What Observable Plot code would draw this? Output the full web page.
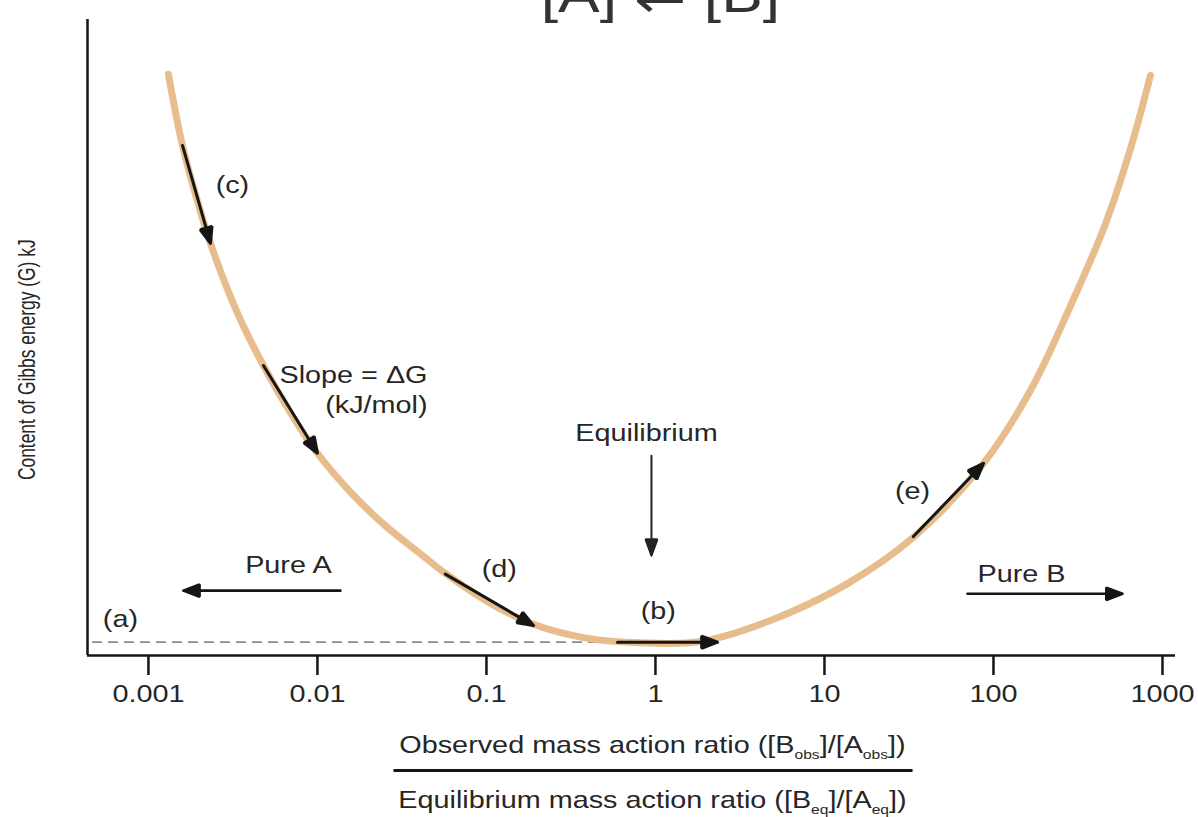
<!DOCTYPE html>
<html>
<head>
<meta charset="utf-8">
<script src="https://cdn.jsdelivr.net/npm/d3@7"></script>
<script src="https://cdn.jsdelivr.net/npm/@observablehq/plot@0.6"></script>
<style>
  html, body { margin: 0; padding: 0; background: #fff; }
  #chart { width: 1198px; height: 817px; overflow: hidden; }
</style>
</head>
<body>
<div id="chart"></div>
<script>
// ---- Data ----
// Gibbs energy curve: mass action ratio (Q/K) vs G (arbitrary units, 0..100)
const curveRatio = [0.001312, 0.001589, 0.001923, 0.002328, 0.003319, 0.004786, 0.006918, 0.01, 0.01633, 0.02523, 0.04064, 0.05715, 0.1057, 0.1897, 0.3963, 0.8147, 1.845, 4.786, 13.68, 33.65, 87.3, 165.6, 285.8, 460.3, 647.1, 849.2];
const curveG     = [91.4, 80.2, 72.0, 64.8, 54.2, 45.6, 38.2, 31.8, 25.2, 20.4, 16.0, 12.9, 8.2, 4.9, 2.7, 2.0, 2.2, 5.5, 11.3, 18.6, 30.2, 41.7, 55.0, 67.9, 79.7, 91.2];

// Arrows drawn along the curve: (c), slope, (d), (b), (e)
const curveArrowNames = ["c", "slope", "d", "b", "e"];
const curveArrowX1 = [0.00159, 0.00479, 0.0571, 0.596, 33.6];
const curveArrowY1 = [80.2, 45.6, 12.8, 2.1, 18.7];
const curveArrowX2 = [0.00233, 0.0100, 0.190, 2.33, 87.3];
const curveArrowY2 = [64.8, 31.8, 4.7, 2.1, 30.2];

// "Pure A" / "Pure B" direction arrows
const pureArrowX1 = [0.01368, 70.2];
const pureArrowX2 = [0.00161, 580];
const pureArrowY  = [10.2, 9.7];

// Equilibrium pointer
const eqArrowX = [0.947];
const eqArrowY1 = [31.4];
const eqArrowY2 = [15.7];

// Minimum (equilibrium) energy level, dashed reference (a)
const minG = 2.1;
const dashRatio = [0.000467, 0.596];

// Axis ticks
const tickValues = [0.001, 0.01, 0.1, 1, 10, 100, 1000];
const tickLabels = ["0.001", "0.01", "0.1", "1", "10", "100", "1000"];

// Texts
const titleText = "[A] \u21CC [B]";
const yLabel = "Content of Gibbs energy (G) kJ";
const xLabelTop = "Observed mass action ratio ([B_obs]/[A_obs])";
const xLabelBottom = "Equilibrium mass action ratio ([B_eq]/[A_eq])";

// ---- Build tables ----
const curve = curveRatio.map((r, i) => ({r, g: curveG[i]}));
const curveArrows = curveArrowNames.map((n, i) => ({n, x1: curveArrowX1[i], y1: curveArrowY1[i], x2: curveArrowX2[i], y2: curveArrowY2[i]}));
const pureArrows = pureArrowX1.map((x1, i) => ({x1, x2: pureArrowX2[i], y: pureArrowY[i]}));
const eqArrows = eqArrowX.map((x, i) => ({x, y1: eqArrowY1[i], y2: eqArrowY2[i]}));

const labels = [
  {text: "(c)", x: 0.00314, y: 73.9},
  {text: "Equilibrium", x: 0.885, y: 34.9},
  {text: "Pure A", x: 0.00673, y: 14.2},
  {text: "(d)", x: 0.119, y: 13.5},
  {text: "(b)", x: 1.04, y: 6.9},
  {text: "(a)", x: 0.000683, y: 5.7},
  {text: "(e)", x: 33.2, y: 25.8},
  {text: "Pure B", x: 146.5, y: 12.7}
];
const slopeLabels = [
  {text: "Slope = \u0394G", x: 0.0448, y: 44.0},
  {text: "(kJ/mol)", x: 0.0448, y: 39.3}
];

const xDomain = [0.000436, 1194];
const ink = "#151515";
const textInk = "#262626";

const chart = Plot.plot({
  width: 1198,
  height: 817,
  marginLeft: 87,
  marginRight: 23,
  marginTop: 19,
  marginBottom: 162,
  x: {type: "log", domain: xDomain},
  y: {domain: [0, 100], axis: null},
  style: {fontFamily: "'Liberation Sans', Arial, Helvetica, sans-serif", fontSize: "24px", background: "#fff", color: textInk},
  marks: [
    Plot.ruleY([minG], {x1: dashRatio[0], x2: dashRatio[1], stroke: "#8c8c8c", strokeWidth: 1.6, strokeDasharray: "10,6"}),
    Plot.line(curve, {x: "r", y: "g", stroke: "#e7bd8d", strokeWidth: 7, curve: "catmull-rom"}),
    Plot.arrow(curveArrows, {x1: "x1", y1: "y1", x2: "x2", y2: "y2", stroke: ink, strokeWidth: 3, headLength: 8.5, headAngle: 42}),
    Plot.arrow(pureArrows, {x1: "x1", y1: "y", x2: "x2", y2: "y", stroke: ink, strokeWidth: 2.6, headLength: 10, headAngle: 42}),
    Plot.arrow(eqArrows, {x1: "x", y1: "y1", x2: "x", y2: "y2", stroke: "#222", strokeWidth: 2, headLength: 13, headAngle: 40}),
    Plot.ruleX([xDomain[0]], {stroke: ink, strokeWidth: 2.5}),
    Plot.ruleY([0], {stroke: ink, strokeWidth: 2.5}),
    Plot.axisX({
      ticks: tickValues,
      tickFormat: d => tickLabels[tickValues.indexOf(d)],
      tickSize: 20,
      tickPadding: 9,
      fontSize: 24,
      stroke: ink,
      strokeWidth: 2.5,
      fill: textInk,
      label: null
    }),
    Plot.text(labels, {x: "x", y: "y", text: "text", fontSize: 24, fill: textInk}),
    Plot.text(slopeLabels, {x: "x", y: "y", text: "text", fontSize: 24, fill: textInk, textAnchor: "end"}),
    Plot.text([yLabel], {x: xDomain[0], y: 46.5, dx: -60, text: d => d, rotate: -90, fontSize: 17.4, fill: textInk}),
    Plot.text([xLabelTop], {x: 0.96, y: 0, dy: 90, text: d => d, fontSize: 24, fill: textInk}),
    Plot.link([0], {x1: () => 0.02818, x2: () => 33.2, y1: () => 0, y2: () => 0, dy: 115, stroke: ink, strokeWidth: 2.8}),
    Plot.text([xLabelBottom], {x: 0.96, y: 0, dy: 145, text: d => d, fontSize: 24, fill: textInk}),
    Plot.text([titleText], {x: 1.07, y: 100, dy: -8, text: d => d, lineAnchor: "bottom", fontSize: 52, fill: "#333"})
  ]
});

document.getElementById("chart").appendChild(chart);
const svg = chart.tagName.toLowerCase() === "svg" ? chart : chart.querySelector("svg");
const NS = "http://www.w3.org/2000/svg";

// Filled arrowheads
for (const p of svg.querySelectorAll('g[aria-label="arrow"] path')) {
  const d = p.getAttribute("d");
  if (d && !d.endsWith("Z")) p.setAttribute("d", d + "Z");
  const g = p.closest("g[aria-label='arrow']");
  const col = p.getAttribute("stroke") || g.getAttribute("stroke") || ink;
  p.setAttribute("fill", col);
  p.setAttribute("stroke-linejoin", "miter");
}

// Subscripts for "_xxx"
for (const t of svg.querySelectorAll("text")) {
  const s = t.textContent;
  if (!s.includes("_")) continue;
  const parts = s.split(/_([a-z]+)/);
  t.textContent = "";
  let afterSub = false;
  parts.forEach((part, i) => {
    const ts = document.createElementNS(NS, "tspan");
    ts.textContent = part;
    if (i % 2 === 1) {
      ts.setAttribute("dy", "6");
      ts.setAttribute("font-size", "13");
      afterSub = true;
    } else if (afterSub) {
      ts.setAttribute("dy", "-6");
      afterSub = false;
    }
    t.appendChild(ts);
  });
}

// Horizontal stretch matching the reference typography
for (const t of svg.querySelectorAll("text")) {
  const isY = t.textContent.startsWith("Content of");
  const sc = isY ? " scale(1,1.4)" : " scale(1.2,1)";
  const tr = t.getAttribute("transform");
  if (tr) {
    t.setAttribute("transform", tr + sc);
  } else {
    const x = +t.getAttribute("x") || 0, y = +t.getAttribute("y") || 0;
    t.removeAttribute("x"); t.removeAttribute("y");
    t.setAttribute("transform", `translate(${x},${y})` + sc);
  }
}
</script>
</body>
</html>
